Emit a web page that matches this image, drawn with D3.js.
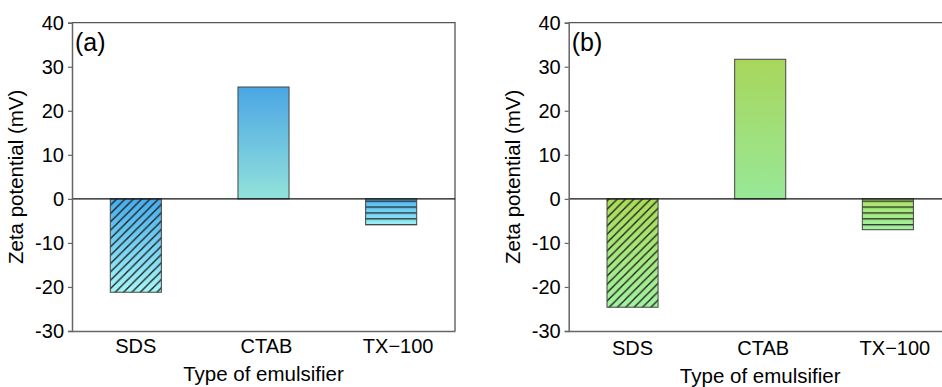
<!DOCTYPE html>
<html><head><meta charset="utf-8">
<script src="https://cdn.jsdelivr.net/npm/d3@7/dist/d3.min.js"></script>
<style>body{margin:0;background:#fff}svg{display:block}text{font-family:"Liberation Sans",Arial,sans-serif;fill:#000}</style>
</head><body>
<svg id="c" width="942" height="387"></svg>
<script>
const categories = ["SDS", "CTAB", "TX\u2212100"];
const valuesA = [-21.2, 25.4, -5.9];
const valuesB = [-24.6, 31.7, -7.0];
const yTicks = [-30, -20, -10, 0, 10, 20, 30, 40];
const panelLabels = ["(a)", "(b)"];
const patterns = ["diag", "none", "horiz"];

const svg = d3.select("#c");
const defs = svg.append("defs");

const palettes = {
  a: {sds: ["#48acec", "#a6f6f6"], ctab: ["#4aa6e4", "#92e2da"], tx: ["#50b4f0", "#9cf0f4"]},
  b: {sds: ["#aadc58", "#a2f2a0"], ctab: ["#a8d65c", "#98e898"], tx: ["#aee468", "#a0f2a2"]}
};

function grad(id, c) {
  const g = defs.append("linearGradient").attr("id", id).attr("x1", 0).attr("y1", 0).attr("x2", 0).attr("y2", 1);
  g.append("stop").attr("offset", "0%").attr("stop-color", c[0]);
  g.append("stop").attr("offset", "100%").attr("stop-color", c[1]);
}
Object.entries(palettes).forEach(([k, p]) => {
  grad("g-" + k + "-0", p.sds); grad("g-" + k + "-1", p.ctab); grad("g-" + k + "-2", p.tx);
});

const plotTop = 22.7, plotBottom = 331, plotW = 383;
const y = d3.scaleLinear().domain([-30, 40]).range([plotBottom, plotTop]);
const zeroY = y(0);

// hatch patterns
const sp = 5.9;
const s = sp * Math.SQRT2;
const pd = defs.append("pattern").attr("id", "p-diag").attr("patternUnits", "userSpaceOnUse")
  .attr("width", s).attr("height", s)
  .attr("patternTransform", `translate(0,${zeroY})`);
pd.append("path").attr("d", `M0,${s} L${s},0 M${-s},${s} L${s},${-s} M0,${2*s} L${2*s},0`)
  .attr("stroke", "#1a1a1a").attr("stroke-width", 1.3);
const ph = defs.append("pattern").attr("id", "p-horiz").attr("patternUnits", "userSpaceOnUse")
  .attr("width", 10).attr("height", sp)
  .attr("patternTransform", `translate(0,${zeroY + 7.6})`);
ph.append("line").attr("x1", 0).attr("x2", 10).attr("y1", 0).attr("y2", 0)
  .attr("stroke", "#1a1a1a").attr("stroke-width", 2.4);

function panel(left, values, key, label, dy) {
  const g = svg.append("g");
  const x = d3.scaleBand().domain(categories).range([left, left + plotW]).paddingInner(0.6).paddingOuter(0.3);

  g.append("path").attr("d", `M${left},${plotTop}H${left + plotW}V${plotBottom}`)
    .attr("fill", "none").attr("stroke", "#555").attr("stroke-width", 1.3);

  const bars = g.selectAll("g.bar").data(values.map((v, i) => ({v, i}))).join("g").attr("class", "bar");
  const geom = sel => sel
    .attr("x", d => x(categories[d.i]))
    .attr("width", x.bandwidth())
    .attr("y", d => y(Math.max(0, d.v)))
    .attr("height", d => Math.abs(y(d.v) - y(0)));
  bars.append("rect").call(geom).attr("fill", d => `url(#g-${key}-${d.i})`);
  bars.filter(d => patterns[d.i] !== "none").append("rect").call(geom)
    .attr("fill", d => `url(#p-${patterns[d.i]})`);
  bars.append("rect").call(geom).attr("fill", "none").attr("stroke", "#444").attr("stroke-width", 1);

  g.append("line").attr("x1", left).attr("x2", left + plotW).attr("y1", zeroY).attr("y2", zeroY)
    .attr("stroke", "#111").attr("stroke-width", 1.3);

  const ya = g.append("g").attr("transform", `translate(${left},0)`)
    .call(d3.axisLeft(y).tickValues(yTicks).tickFormat(d => String(d)).tickSize(4).tickPadding(4));
  ya.select(".domain").attr("stroke", "#666").attr("stroke-width", 1.5);
  ya.selectAll(".tick line").attr("stroke", "#666").attr("stroke-width", 1.2);
  ya.selectAll(".tick text").attr("font-size", 20).attr("fill", "#000").style("font-family", '"Liberation Sans",Arial,sans-serif');

  const offs = [0, 3, 7];
  const xa = g.append("g").attr("transform", `translate(0,${plotBottom})`)
    .call(d3.axisBottom(x).tickSize(0).tickPadding(8 + dy));
  xa.select(".domain").attr("stroke", "#666").attr("stroke-width", 1.5);
  xa.selectAll(".tick text").attr("font-size", 20).attr("fill", "#000")
    .attr("dx", (d, i) => offs[i]).style("font-family", '"Liberation Sans",Arial,sans-serif');

  g.append("text").attr("x", left + plotW / 2).attr("y", 381 + dy).attr("text-anchor", "middle")
    .attr("font-size", 20.5).text("Type of emulsifier");
  g.append("text").attr("transform", `translate(${left - 49},${(plotTop + plotBottom) / 2}) rotate(-90)`)
    .attr("text-anchor", "middle").attr("font-size", 20.5).text("Zeta potential (mV)");
  g.append("text").attr("x", left + 3).attr("y", 51).attr("font-size", 25).text(label);
}

panel(72, valuesA, "a", panelLabels[0], 0);
panel(568.7, valuesB, "b", panelLabels[1], 2);
</script>
</body></html>
